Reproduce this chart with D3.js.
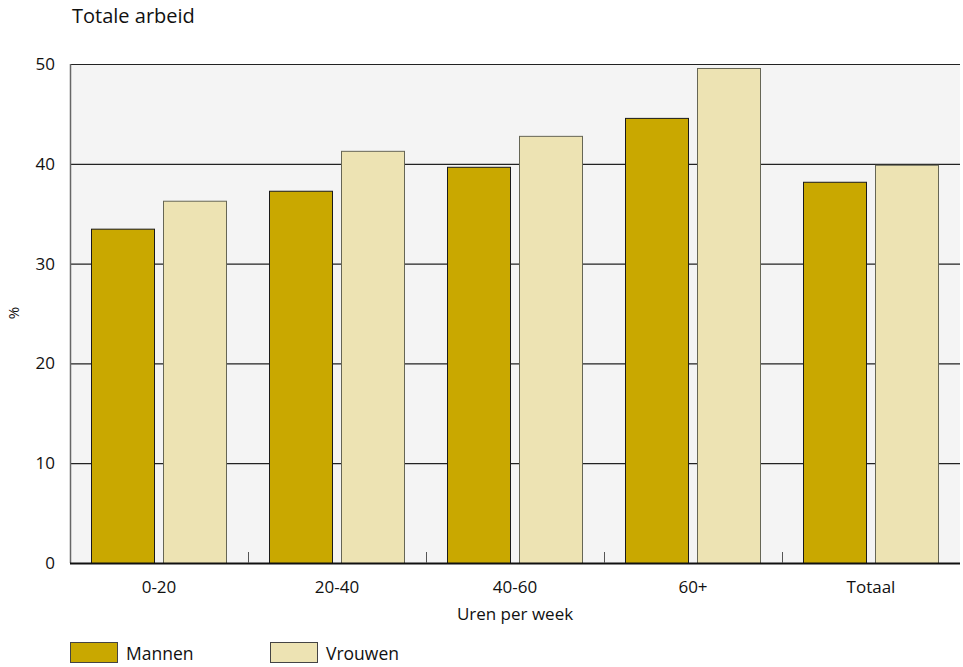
<!DOCTYPE html>
<html><head><meta charset="utf-8">
<script src="https://cdn.jsdelivr.net/npm/d3@7"></script>
<style>body{margin:0;background:#fff}svg{display:block;font-family:"Open Sans","Noto Sans",sans-serif}</style>
</head><body><svg id="c" width="963" height="667"></svg>
<script>
const categories = ["0-20","20-40","40-60","60+","Totaal"];
const seriesNames = ["Mannen","Vrouwen"];
const mannen = [33.5, 37.3, 39.7, 44.6, 38.2];
const vrouwen = [36.3, 41.3, 42.8, 49.6, 39.9];
const yTicks = [0,10,20,30,40,50];
const colors = ["#c9a800","#ede3b3"];
const strokes = ["#1a1a1a","#666655"];

const svg = d3.select("#c");
const L=70, R=960, T=64, B=563;
const FS = 17;
const x = d3.scaleBand().domain(categories).range([L,R]);
const xi = d3.scaleBand().domain(seriesNames).range([0,x.bandwidth()]).paddingInner(8/72).paddingOuter(21/72);
const y = d3.scaleLinear().domain([0,50]).range([B,T]);

svg.append("rect").attr("x",L).attr("y",T).attr("width",R-L).attr("height",B-T).attr("fill","#f4f4f4");
svg.append("g").selectAll("line").data(yTicks.filter(d=>d>0)).join("line")
  .attr("x1",L).attr("x2",R).attr("y1",d=>y(d)+0.5).attr("y2",d=>y(d)+0.5)
  .attr("stroke","#222").attr("stroke-width",1.2);

const data = [mannen, vrouwen];
seriesNames.forEach((s,si)=>{
  svg.append("g").selectAll("rect").data(categories).join("rect")
    .attr("x",c=>x(c)+xi(s)+0.5).attr("y",(c,i)=>y(data[si][i])+0.5)
    .attr("width",xi.bandwidth()-1).attr("height",(c,i)=>B-y(data[si][i]))
    .attr("fill",colors[si]).attr("stroke",strokes[si]).attr("stroke-width",1);
});

// left axis
svg.append("line").attr("x1",L+0.5).attr("x2",L+0.5).attr("y1",T).attr("y2",B).attr("stroke","#666").attr("stroke-width",1.5);
svg.append("g").selectAll("text").data(yTicks).join("text")
  .attr("x",55).attr("y",d=>y(d)+6).attr("text-anchor","end").attr("font-size",FS).attr("fill","#111").text(d=>d);
// bottom axis
svg.append("line").attr("x1",L).attr("x2",R).attr("y1",B+0.5).attr("y2",B+0.5).attr("stroke","#111").attr("stroke-width",2);
svg.append("g").selectAll("line").data(categories.slice(1)).join("line")
  .attr("x1",c=>x(c)+0.5).attr("x2",c=>x(c)+0.5).attr("y1",B).attr("y2",B-11).attr("stroke","#555").attr("stroke-width",1);
svg.append("g").selectAll("text").data(categories).join("text")
  .attr("x",c=>x(c)+x.bandwidth()/2).attr("y",593).attr("text-anchor","middle").attr("font-size",FS).attr("fill","#111").text(c=>c);
svg.append("text").attr("x",(L+R)/2).attr("y",620).attr("text-anchor","middle").attr("font-size",FS).attr("fill","#111").text("Uren per week");
svg.append("text").attr("transform","translate(19,313) rotate(-90)").attr("text-anchor","middle").attr("font-size",15).attr("fill","#111").text("%");
svg.append("text").attr("x",72).attr("y",23).attr("font-size",20).attr("fill","#111").text("Totale arbeid");

// legend
const lg = svg.append("g").selectAll("g").data(seriesNames).join("g").attr("transform",(d,i)=>`translate(${70+i*200},642)`);
lg.append("rect").attr("x",0.5).attr("y",0.5).attr("width",47).attr("height",20).attr("fill",(d,i)=>colors[i]).attr("stroke","#444");
lg.append("text").attr("x",56).attr("y",18).attr("font-size",17.5).attr("fill","#111").text(d=>d);
</script></body></html>
